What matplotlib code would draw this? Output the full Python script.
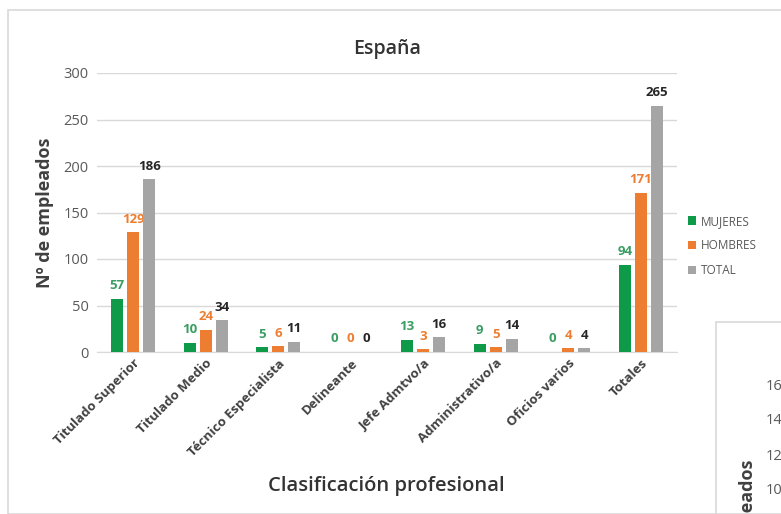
import matplotlib.pyplot as plt
import numpy as np
from matplotlib.patches import Rectangle

categorias = ["Titulado Superior", "Titulado Medio", "Técnico Especialista", "Delineante",
              "Jefe Admtvo/a", "Administrativo/a", "Oficios varios", "Totales"]
mujeres = [57, 10, 5, 0, 13, 9, 0, 94]
hombres = [129, 24, 6, 0, 3, 5, 4, 171]
total = [186, 34, 11, 0, 16, 14, 4, 265]
series = ["MUJERES", "HOMBRES", "TOTAL"]

c_verde = "#0E9A48"
c_naranja = "#ED7D31"
c_gris = "#A5A5A5"
c_lab = ["#3A9E63", "#ED7D31", "#262626"]

W, H = 781, 514
fig = plt.figure(figsize=(W / 100, H / 100), dpi=100)

# marco del gráfico
fig.patches.append(Rectangle((8 / W, 0), 1.0, 1 - 10 / H, transform=fig.transFigure,
                             fill=False, edgecolor="#D9D9D9", lw=1.2))

ax = fig.add_axes([97 / W, 1 - 352 / H, (677 - 97) / W, (352 - 73) / H])
x = np.arange(len(categorias))
bw = 0.166
for i, (vals, col) in enumerate(zip([mujeres, hombres, total], [c_verde, c_naranja, c_gris])):
    pos = x + (i - 1) * 0.22
    ax.bar(pos, vals, width=bw, color=col, label=series[i], zorder=3)
    for p, v in zip(pos, vals):
        ax.text(p, v + 7, str(v), ha="center", va="bottom", fontsize=9.5,
                fontweight="bold", color=c_lab[i], family="Open Sans")

ax.set_xlim(-0.5, len(categorias) - 0.5)
ax.set_ylim(0, 300)
ax.set_yticks(range(0, 301, 50))
ax.grid(axis="y", color="#D9D9D9", lw=1, zorder=0)
for s in ["top", "right", "left"]:
    ax.spines[s].set_visible(False)
ax.spines["bottom"].set_color("#D9D9D9")
ax.tick_params(axis="both", length=0, colors="#595959", labelsize=10.5)
ax.tick_params(axis="y", pad=6)
ax.set_xticks(x)
ax.set_xticklabels(categorias, rotation=45, ha="right", rotation_mode="anchor",
                   fontsize=9.5, fontweight="bold", color="#404040", family="Open Sans")
for t in ax.get_yticklabels():
    t.set_family("Open Sans")

ax.set_title("España", fontsize=14, fontweight="semibold", color="#333333",
             family="Open Sans", pad=14)
fig.text(45 / W, 1 - 213 / H, "Nº de empleados", rotation=90, ha="center", va="center",
         fontsize=13, fontweight="bold", color="#404040", family="Open Sans")
fig.text(386 / W, 1 - 486 / H, "Clasificación profesional", ha="center", va="center",
         fontsize=14.5, fontweight="semibold", color="#333333", family="Open Sans")

leg = ax.legend(loc="center left", bbox_to_anchor=(1.0, 0.38), frameon=False,
                handlelength=0.7, handleheight=0.7, handletextpad=0.4, labelspacing=1.0,
                prop={"family": "Open Sans", "size": 8.5})
for t in leg.get_texts():
    t.set_color("#595959")

# gráfico siguiente, cortado en la esquina
fig.patches.append(Rectangle((716 / W, 0), 1.0, 1 - 322 / H, transform=fig.transFigure,
                             facecolor="white", edgecolor="#D9D9D9", lw=1.2, zorder=5))
for lab, yy in zip(["16", "14", "12", "10"], [386, 421, 456, 491]):
    fig.text(766 / W, 1 - yy / H, lab, ha="left", va="center", fontsize=10.5,
             color="#595959", family="Open Sans", zorder=6)
fig.text(748 / W, 1 - 460 / H, "Nº de empleados", rotation=90, ha="center", va="top",
         fontsize=13, fontweight="bold", color="#404040", family="Open Sans", zorder=6)

fig.savefig("out.png", dpi=100)
